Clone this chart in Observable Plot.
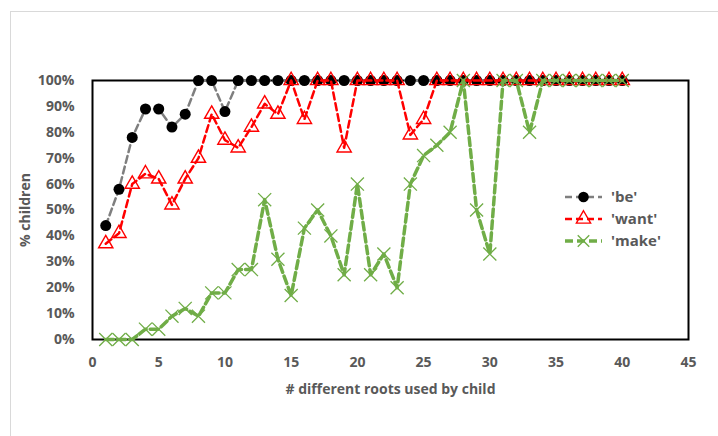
<!DOCTYPE html>
<html><head><meta charset="utf-8">
<script src="https://cdn.jsdelivr.net/npm/d3@7"></script>
<script src="https://cdn.jsdelivr.net/npm/@observablehq/plot@0.6"></script>
<style>
body{margin:0;background:#fff;}
#wrap{position:relative;width:718px;height:436px;overflow:hidden;font-family:"Open Sans",sans-serif;}
#border{position:absolute;left:10px;top:11px;width:800px;height:500px;border-left:1px solid #d9d9d9;border-top:1px solid #d9d9d9;}
#chart{position:absolute;left:0;top:0;}
#legend{position:absolute;left:0;top:0;}
</style></head><body>
<div id="wrap"><div id="border"></div><div id="chart"></div><div id="legend"></div></div>
<script>
const roots = [1,2,3,4,5,6,7,8,9,10,11,12,13,14,15,16,17,18,19,20,21,22,23,24,25,26,27,28,29,30,31,32,33,34,35,36,37,38,39,40];
const be   = [44,58,78,89,89,82,87,100,100,88,100,100,100,100,100,100,100,100,100,100,100,100,100,100,100,100,100,100,100,100,100,100,100,100,100,100,100,100,100,100];
const want = [37,41,60,64,62,52,62,70,87,77,74,82,91,87,100,85,100,100,74,100,100,100,100,79,85,100,100,100,100,100,100,100,100,100,100,100,100,100,100,100];
const make = [0,0,0,4,4,9,12,9,18,18,27,27,54,31,17,43,50,40,25,60,25,33,20,60,71,75,80,100,50,33,100,100,80,100,100,100,100,100,100,100];
const seriesNames = ["'be'", "'want'", "'make'"];
const yTicks = [0,10,20,30,40,50,60,70,80,90,100];
const xTicks = [0,5,10,15,20,25,30,35,40,45];

const rows = roots.map((r, i) => ({root: r, be: be[i], want: want[i], make: make[i]}));

const GRAY = "#7f7f7f", RED = "#ff0000", GREEN = "#70ad47", TEXT = "#595959";

const chart = Plot.plot({
  width: 718, height: 436,
  marginLeft: 92, marginRight: 30, marginTop: 80, marginBottom: 97,
  style: {fontFamily: "'Open Sans', sans-serif", fontSize: "14px", fontWeight: "bold", color: TEXT, background: "transparent"},
  x: {domain: [0, 45]},
  y: {domain: [0, 100]},
  marks: [
    Plot.axisY({ticks: yTicks, tickFormat: d => d + "%", tickSize: 0, tickPadding: 18,
      label: "% children", labelAnchor: "center", labelArrow: "none", labelOffset: 72}),
    Plot.axisX({ticks: xTicks, tickSize: 0, tickPadding: 18,
      label: "# different roots used by child", labelAnchor: "center", labelArrow: "none", labelOffset: 54}),
    Plot.frame({stroke: "black", strokeWidth: 2}),
    Plot.line(rows, {x: "root", y: "be", stroke: GRAY, strokeWidth: 2.5, strokeDasharray: "7,4"}),
    Plot.dot(rows, {x: "root", y: "be", symbol: "circle", r: 5.5, fill: "black"}),
    Plot.line(rows, {x: "root", y: "want", stroke: RED, strokeWidth: 2.5, strokeDasharray: "7,4"}),
    Plot.dot(rows, {x: "root", y: "want", symbol: "triangle", r: 5.3, fill: "none", stroke: RED, strokeWidth: 1.4}),
    Plot.line(rows, {x: "root", y: "make", stroke: GREEN, strokeWidth: 3.5, strokeDasharray: "8,4"}),
    Plot.dot(rows, {x: "root", y: "make", symbol: "times", r: 6, stroke: GREEN, strokeWidth: 1.3})
  ]
});
document.getElementById("chart").appendChild(chart);

// legend
const leg = d3.select("#legend").append("svg").attr("width", 718).attr("height", 436)
  .style("font-family", "'Open Sans', sans-serif").style("font-weight", "bold").style("font-size", "15px");
const legItems = [
  {name: seriesNames[0], color: GRAY, w: 2.5, dash: "7,4", sym: d3.symbolCircle, fill: "black", stroke: "none"},
  {name: seriesNames[1], color: RED, w: 2.5, dash: "7,4", sym: d3.symbolTriangle, fill: "none", stroke: RED},
  {name: seriesNames[2], color: GREEN, w: 3.5, dash: "8,4", sym: d3.symbolTimes, fill: "none", stroke: GREEN}
];
legItems.forEach((it, i) => {
  const g = leg.append("g").attr("transform", `translate(565,${197 + i * 22})`);
  g.append("line").attr("x1", 0).attr("x2", 37).attr("stroke", it.color).attr("stroke-width", it.w).attr("stroke-dasharray", it.dash);
  g.append("path").attr("transform", "translate(18.5,0)").attr("d", d3.symbol(it.sym, Math.PI * 28)())
    .attr("fill", it.fill).attr("stroke", it.stroke).attr("stroke-width", 1.4);
  g.append("text").attr("x", 46).attr("dy", "0.35em").attr("fill", TEXT).text(it.name);
});
</script>
</body></html>
